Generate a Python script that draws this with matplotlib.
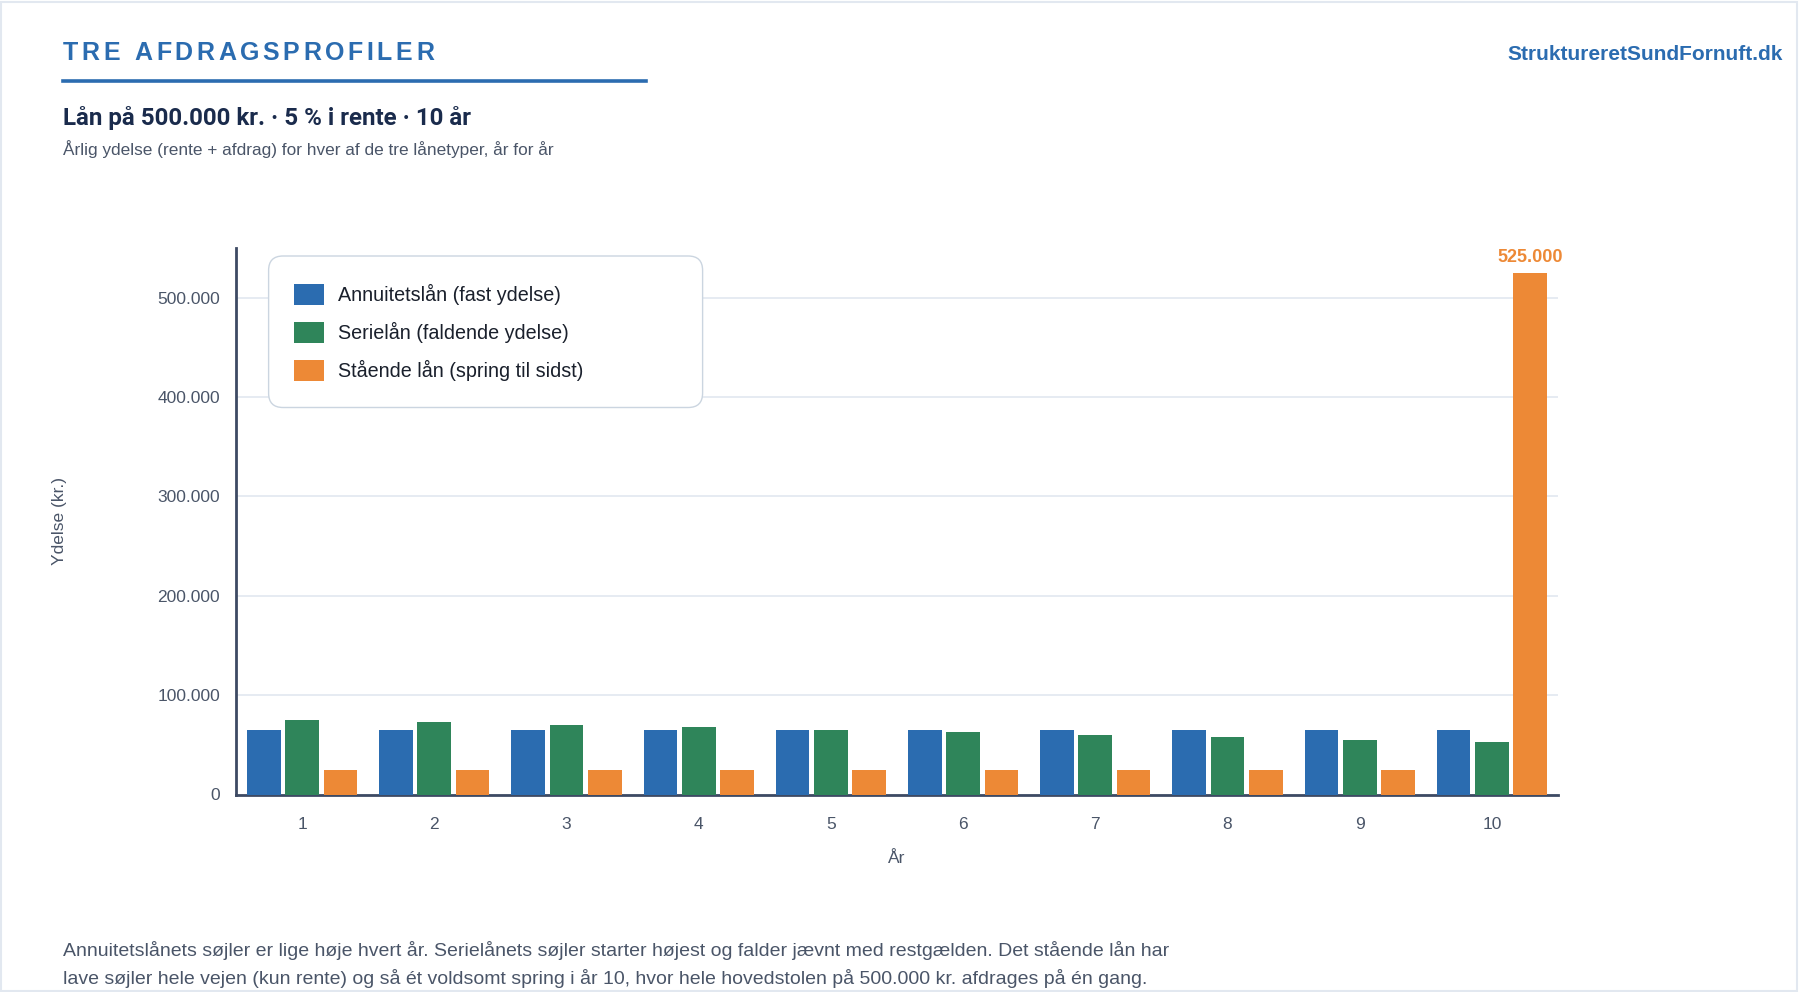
"""Tre afdragsprofiler: annuitetslån, serielån og stående lån (500.000 kr., 5 %, 10 år)."""

import matplotlib
matplotlib.use("Agg")
import matplotlib.pyplot as plt
import numpy as np
from matplotlib.ticker import FuncFormatter
from matplotlib.patches import FancyBboxPatch

YEARS = [1, 2, 3, 4, 5, 6, 7, 8, 9, 10]
ANNUITET = [64752, 64752, 64752, 64752, 64752, 64752, 64752, 64752, 64752, 64752]
SERIE = [75000, 72500, 70000, 67500, 65000, 62500, 60000, 57500, 55000, 52500]
STAAENDE = [25000, 25000, 25000, 25000, 25000, 25000, 25000, 25000, 25000, 525000]
SERIES = [
    ("Annuitetslån (fast ydelse)", ANNUITET, "#2b6cb0"),
    ("Serielån (faldende ydelse)", SERIE, "#2f855a"),
    ("Stående lån (spring til sidst)", STAAENDE, "#ed8936"),
]

BLUE = "#2b6cb0"
NAVY = "#1a2b4c"
GRAY = "#4a5568"
GRID = "#e2e8f0"

W, H = 1800, 992


def fx(px):
    return px / W


def fy(py):
    return 1 - py / H


def spaced_text(fig, x, y, s, spacing_px, **kw):
    # draw char by char to get letter spacing
    renderer = fig.canvas.get_renderer()
    cur = x
    for ch in s:
        t = fig.text(fx(cur), fy(y), ch, va="center", ha="left", **kw)
        bb = t.get_window_extent(renderer=renderer)
        cur += bb.width + spacing_px


def main():
    plt.rcParams["font.family"] = ["Liberation Sans", "DejaVu Sans"]
    fig = plt.figure(figsize=(W / 100, H / 100), dpi=100)
    fig.patch.set_facecolor("white")

    # thin frame round the card
    fig.add_artist(plt.Rectangle((0.0005, 0.001), 0.998, 0.997, transform=fig.transFigure,
                                 fill=False, edgecolor=GRID, linewidth=1.5))

    # header
    spaced_text(fig, 63, 53, "TRE AFDRAGSPROFILER", 3.6, fontsize=18, fontweight="bold", color=BLUE)
    fig.add_artist(plt.Line2D([fx(63), fx(646)], [fy(80.5), fy(80.5)], color=BLUE, linewidth=2.6))
    fig.text(fx(1783), fy(55), "StruktureretSundFornuft.dk", ha="right", va="center",
             fontsize=15, fontweight="bold", color=BLUE)
    fig.text(fx(63), fy(118), "Lån på 500.000 kr. · 5 % i rente · 10 år", ha="left", va="center",
             fontsize=17.4, fontweight="bold", color=NAVY, family=["Roboto", "DejaVu Sans"])
    fig.text(fx(63), fy(149), "Årlig ydelse (rente + afdrag) for hver af de tre lånetyper, år for år",
             ha="left", va="center", fontsize=12.4, color=GRAY)

    # chart
    ax = fig.add_axes([fx(236), fy(794.5), fx(1558 - 236), (794.5 - 248) / H])
    x = np.arange(len(YEARS))
    bw = 0.255
    step = 0.29
    handles = []
    for i, (label, vals, col) in enumerate(SERIES):
        b = ax.bar(x + (i - 1) * step, vals, width=bw, color=col, label=label, zorder=3)
        handles.append(b)

    top = STAAENDE[-1]
    ax.annotate(f"{top:,}".replace(",", "."), (x[-1] + step, top), xytext=(0, 5),
                textcoords="offset points", ha="center", va="bottom",
                fontsize=13, fontweight="bold", color="#ed8936")

    ax.set_xlim(-0.5, len(YEARS) - 0.5)
    ax.set_ylim(0, 550000)
    ax.set_yticks([0, 100000, 200000, 300000, 400000, 500000])
    ax.yaxis.set_major_formatter(FuncFormatter(lambda v, p: f"{int(v):,}".replace(",", ".")))
    ax.set_xticks(x)
    ax.set_xticklabels([str(y) for y in YEARS])
    ax.grid(axis="y", color=GRID, linewidth=1.2, zorder=0)
    ax.set_axisbelow(True)
    for s in ["top", "right"]:
        ax.spines[s].set_visible(False)
    ax.spines["left"].set_color("#3d4a63")
    ax.spines["bottom"].set_color("#3d4a63")
    ax.spines["left"].set_linewidth(2)
    ax.spines["bottom"].set_linewidth(2)
    ax.tick_params(axis="both", length=0, labelsize=12.5, colors=GRAY)
    ax.tick_params(axis="y", pad=11.5)
    ax.tick_params(axis="x", pad=16)
    ax.set_xlabel("År", fontsize=12.5, color=GRAY, labelpad=14)
    ax.set_ylabel("Ydelse (kr.)", fontsize=12.5, color=GRAY, labelpad=0)
    ax.yaxis.set_label_coords(fx(67 - 236) / fx(1558 - 236), 0.5)

    # legend box drawn by hand, entries via legend without frame
    x0, y0, x1, y1 = 268.6, 256, 702.6, 407.5
    box = FancyBboxPatch((fx(x0), fy(y1)), fx(x1 - x0), (y1 - y0) / H,
                         boxstyle="round,pad=0,rounding_size=0.008",
                         transform=fig.transFigure, facecolor="white",
                         edgecolor="#cbd5e0", linewidth=1.0, zorder=4,
                         mutation_aspect=W / H)
    fig.add_artist(box)
    leg = fig.legend(handles=handles, loc="upper left",
                     bbox_to_anchor=(fx(294), fy(283.5)), fontsize=14.2,
                     frameon=False,
                     handlelength=1.52, handleheight=1.27, handletextpad=0.69,
                     labelspacing=0.86, borderpad=0, borderaxespad=0)
    for t in leg.get_texts():
        t.set_color("#1a202c")
    leg.set_zorder(5)

    # footer text
    fig.text(fx(63), fy(950.5), "Annuitetslånets søjler er lige høje hvert år. Serielånets søjler starter "
             "højest og falder jævnt med restgælden. Det stående lån har",
             ha="left", va="center", fontsize=14.0, color=GRAY)
    fig.text(fx(63), fy(978.5), "lave søjler hele vejen (kun rente) og så ét voldsomt spring i år 10, "
             "hvor hele hovedstolen på 500.000 kr. afdrages på én gang.",
             ha="left", va="center", fontsize=14.0, color=GRAY)

    fig.savefig("out.png", dpi=100, facecolor="white")


if __name__ == "__main__":
    main()
